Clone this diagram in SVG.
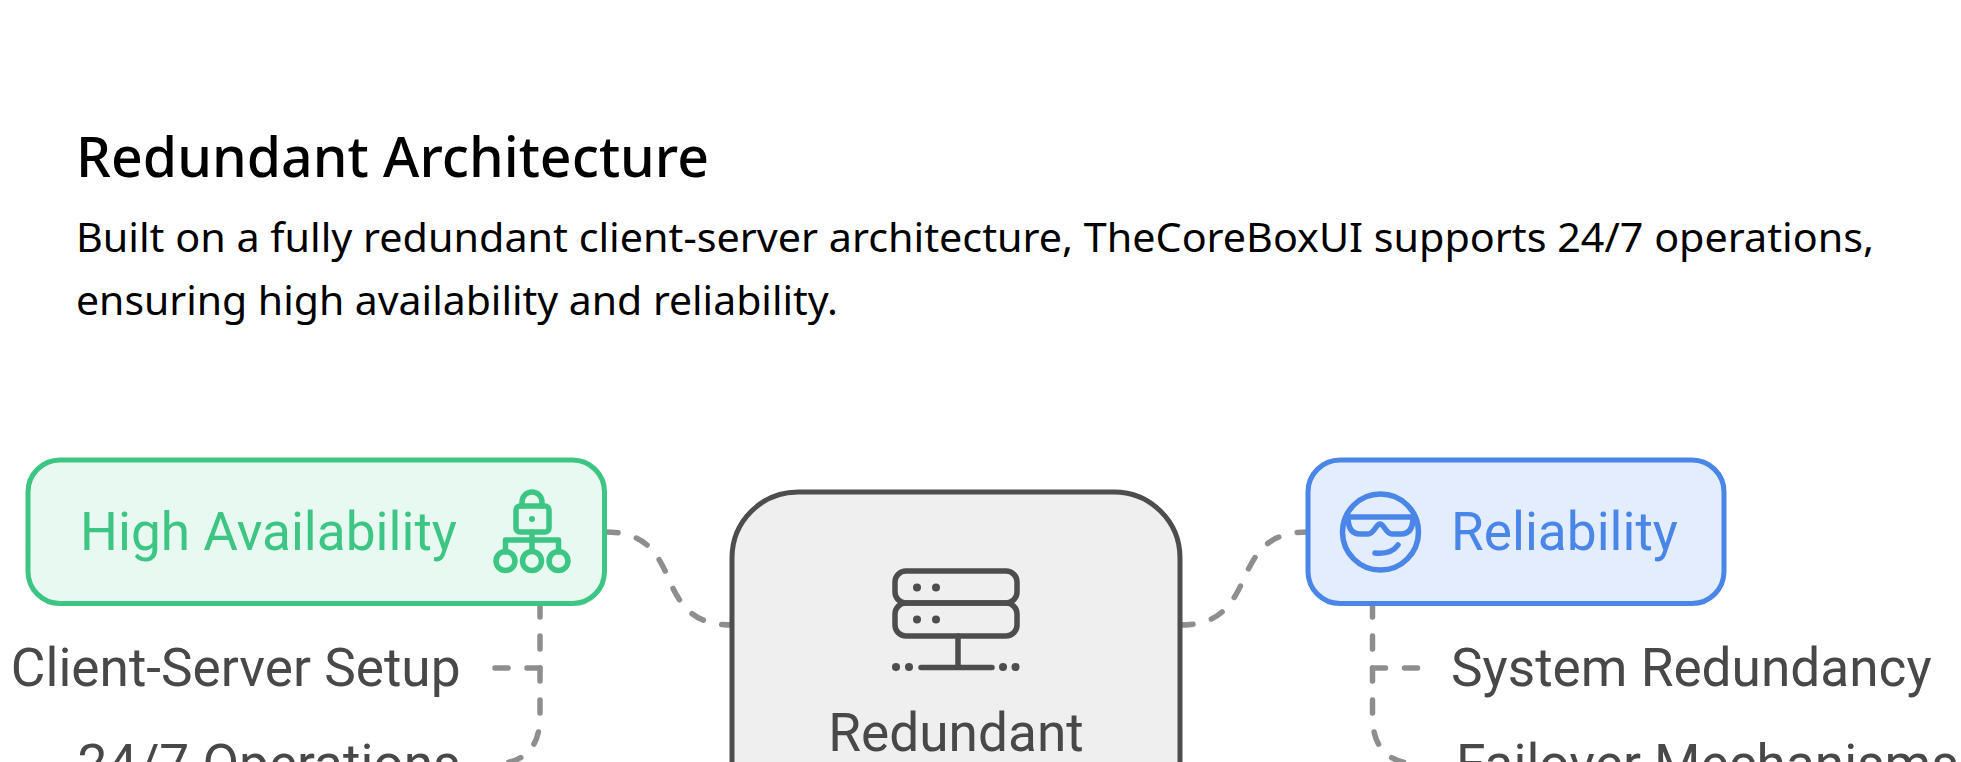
<svg xmlns="http://www.w3.org/2000/svg" width="1961" height="762" viewBox="0 0 1961 762">
<style>
.t{font-family:"Roboto",sans-serif;font-size:53.2px;fill:#484848}
.h{font-family:"Noto Sans","Open Sans",sans-serif;fill:#000}
.c{fill:none;stroke:#8e8e8e;stroke-width:5.500;stroke-linecap:round;stroke-dasharray:13 19}
.g{fill:none;stroke:#3cc583;stroke-width:5.500;stroke-linecap:round;stroke-linejoin:round}
.b{fill:none;stroke:#4a85e8;stroke-width:5.500;stroke-linecap:round;stroke-linejoin:round}
.s{fill:none;stroke:#4d4d4d;stroke-width:5.500;stroke-linecap:round;stroke-linejoin:round}
.d{fill:#4d4d4d}
</style>
<rect width="1961" height="762" fill="#fff"/>
<g id="title">
<text class="h" x="76" y="177" font-size="56" font-weight="500" textLength="633" lengthAdjust="spacingAndGlyphs">Redundant Architecture</text>
<text class="h" x="76" y="252" font-size="40" textLength="1798" lengthAdjust="spacingAndGlyphs">Built on a fully redundant client-server architecture, TheCoreBoxUI supports 24/7 operations,</text>
<text class="h" x="76" y="315" font-size="40" textLength="762" lengthAdjust="spacingAndGlyphs">ensuring high availability and reliability.</text>
</g>
<g id="connectors">
<path class="c" d="M605 532C645 532 657 552 668.500 578.500C680 605 692 625 732 625"/>
<path class="c" d="M1180 625C1220 625 1232 605 1244 578.500C1256 552 1268 532 1308 532"/>
<path class="c" d="M540 604V716Q540 764 492 764"/>
<path class="c" d="M540 668H492"/>
<path class="c" d="M1372.500 604V716Q1372.500 764 1420 764"/>
<path class="c" d="M1372.500 668H1420"/>
</g>
<g id="node-high-availability">
<rect x="28" y="460" width="576.500" height="143.500" rx="32" fill="#e8f9f1" stroke="#3cc583" stroke-width="5"/>
<text x="80" y="550" font-family="Roboto,sans-serif" font-size="53.200" fill="#3cc583">High Availability</text>
<path class="g" d="M522 506V502A10 10 0 0 1 542 502V506"/>
<rect class="g" x="516" y="506" width="33" height="26" rx="4"/>
<circle cx="532" cy="519" r="3" fill="#3cc583"/>
<path class="g" d="M532 532V551M505.500 552V540H558.500V552"/>
<circle class="g" cx="505.500" cy="561" r="9.500"/>
<circle class="g" cx="532" cy="561" r="9.500"/>
<circle class="g" cx="558.500" cy="561" r="9.500"/>
</g>
<g id="node-reliability">
<rect x="1308" y="460" width="416" height="143.500" rx="32" fill="#e4edfd" stroke="#4a85e8" stroke-width="5"/>
<text x="1451" y="550" font-family="Roboto,sans-serif" font-size="53.200" fill="#4a85e8">Reliability</text>
<circle class="b" cx="1380.500" cy="532" r="38"/>
<path class="b" d="M1346 517H1415M1348 517C1348 528 1352 534 1360 534H1368C1374 534 1376 524 1380 524S1386 534 1392 534H1401C1409 534 1413 528 1413 517M1375 553C1385 554 1393 552 1398 545"/>
</g>
<g id="node-redundant">
<rect x="732" y="492" width="448" height="400" rx="66" fill="#efefef" stroke="#4d4d4d" stroke-width="5"/>
<rect class="s" x="895" y="571" width="122" height="32" rx="11"/>
<rect class="s" x="895" y="603" width="122" height="33" rx="11"/>
<circle class="d" cx="917" cy="587.500" r="4"/><circle class="d" cx="936" cy="587.500" r="4"/>
<circle class="d" cx="917" cy="619.500" r="4"/><circle class="d" cx="936" cy="619.500" r="4"/>
<path class="s" d="M958 636V667M921 667.500H992"/>
<circle class="d" cx="896" cy="667" r="4"/><circle class="d" cx="909" cy="667" r="4"/>
<circle class="d" cx="1003" cy="667" r="4"/><circle class="d" cx="1015.500" cy="667" r="4"/>
<text class="t" x="956" y="751" text-anchor="middle">Redundant</text>
</g>
<g id="item-client-server"><text class="t" x="460.500" y="686" text-anchor="end">Client-Server Setup</text></g>
<g id="item-operations"><text class="t" x="460.500" y="782" text-anchor="end">24/7 Operations</text></g>
<g id="item-system-redundancy"><text class="t" x="1451" y="686">System Redundancy</text></g>
<g id="item-failover"><text class="t" x="1456" y="782">Failover Mechanisms</text></g>
</svg>
